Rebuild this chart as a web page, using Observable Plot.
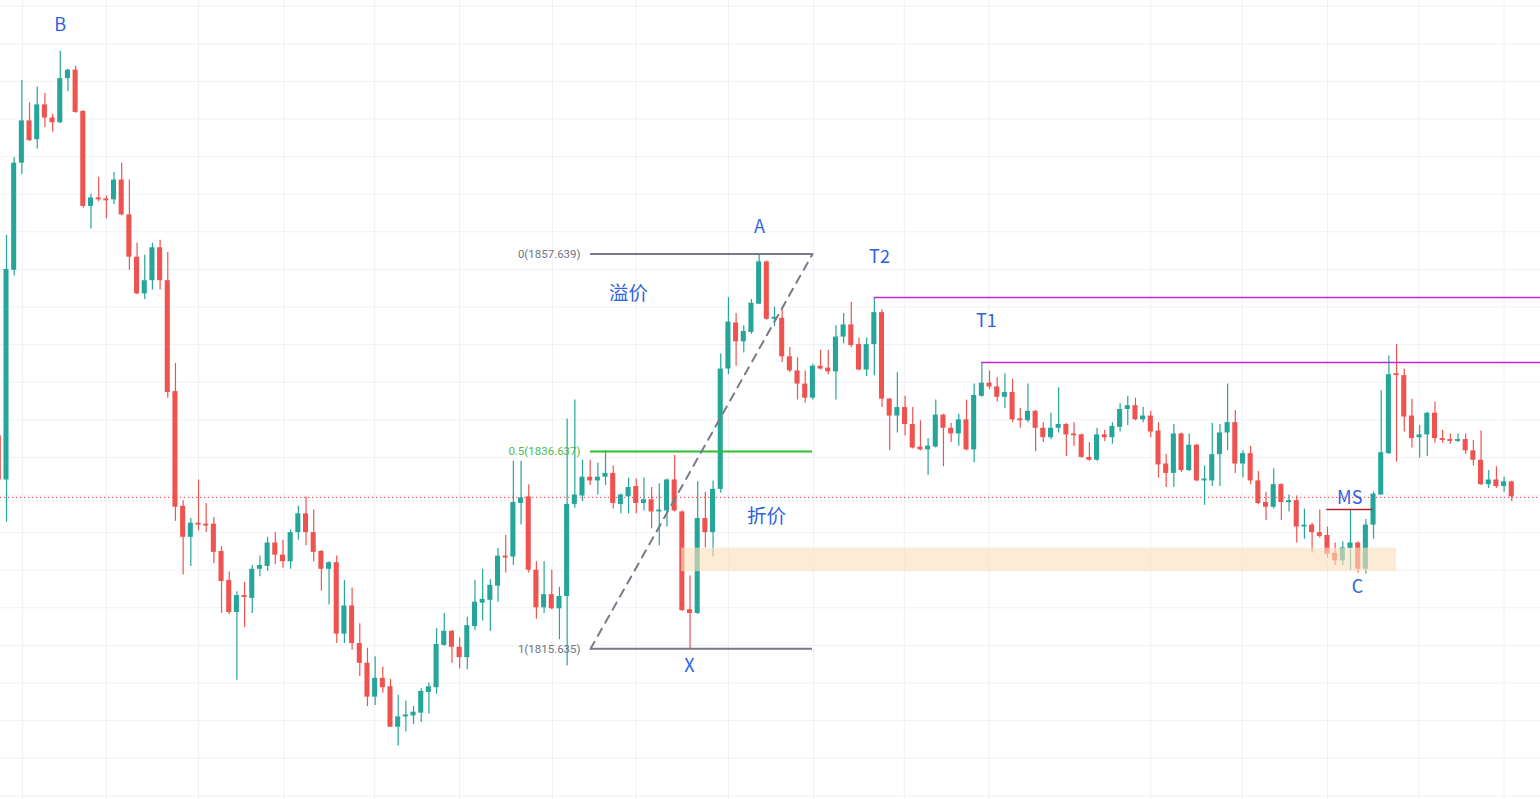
<!DOCTYPE html>
<html>
<head>
<meta charset="utf-8">
<script src="https://cdn.jsdelivr.net/npm/d3@7"></script>
<script src="https://cdn.jsdelivr.net/npm/@observablehq/plot@0.6"></script>
<style>
  html, body { margin: 0; padding: 0; background: #ffffff; overflow: hidden; }
  #chart svg { display: block; }
</style>
</head>
<body>
<div id="chart"></div>
<script>
// ---- candle data (bar index -1 .. 196) ----
const startIndex = -1;
const opens = [1838.3,1833.6,1855.9,1867.3,1871.8,1869.8,1873.5,1872.1,1871.6,1876.3,1877.2,1872.8,1862.7,1863.6,1863.5,1863.4,1865.5,1861.8,1857.3,1853.4,1854.8,1858.3,1854.8,1843.0,1830.8,1827.5,1829.0,1828.9,1828.9,1826.0,1822.9,1819.5,1821.3,1821.0,1824.1,1824.4,1826.9,1825.6,1824.9,1828.0,1830.0,1828.0,1826.0,1824.1,1824.8,1817.2,1820.2,1816.2,1814.1,1810.5,1812.5,1811.6,1807.3,1808.4,1808.5,1808.8,1811.0,1811.5,1816.0,1817.5,1815.8,1814.7,1818.0,1820.5,1820.8,1822.3,1825.5,1825.4,1831.1,1831.8,1824.0,1820.0,1821.4,1819.9,1821.2,1831.0,1831.9,1833.9,1833.5,1833.9,1834.3,1831.0,1831.8,1832.9,1831.1,1831.5,1830.2,1830.3,1833.6,1830.2,1819.8,1819.4,1829.5,1828.0,1832.6,1845.4,1850.3,1848.3,1849.3,1852.3,1856.8,1850.7,1850.8,1846.7,1845.2,1843.8,1842.3,1845.7,1845.5,1845.1,1848.8,1850.1,1848.0,1845.3,1848.0,1851.4,1842.2,1840.4,1841.3,1839.5,1837.1,1836.8,1837.1,1840.5,1839.1,1838.5,1840.0,1836.8,1842.5,1843.9,1843.5,1842.4,1842.9,1840.1,1839.9,1840.9,1839.1,1838.1,1839.1,1839.5,1838.5,1838.4,1836.0,1835.7,1838.4,1838.1,1839.2,1841.1,1841.5,1840.0,1840.4,1838.8,1835.3,1834.3,1838.5,1834.6,1837.3,1833.5,1833.5,1836.3,1838.6,1839.7,1835.3,1836.4,1833.5,1831.2,1830.7,1833.1,1831.2,1831.4,1828.6,1828.8,1828.0,1827.7,1825.8,1825.0,1826.3,1826.9,1824.1,1828.8,1832.0,1836.4,1844.9,1844.7,1840.4,1838.1,1838.4,1840.7,1838.0,1837.9,1837.7,1837.9,1836.7,1835.7,1833.1,1833.6,1832.9,1833.4];
const highs = [1839.0,1859.6,1867.9,1876.1,1873.7,1875.4,1874.7,1872.5,1879.2,1877.3,1877.6,1872.9,1864.0,1865.8,1863.8,1866.3,1867.3,1865.5,1858.8,1857.5,1858.8,1859.1,1857.8,1846.0,1831.4,1829.5,1833.6,1831.1,1829.6,1826.5,1823.8,1821.7,1822.7,1824.5,1825.5,1827.5,1828.0,1827.2,1828.3,1830.8,1831.8,1830.4,1826.1,1824.9,1825.5,1822.9,1822.1,1818.3,1815.7,1814.8,1813.7,1812.4,1810.7,1810.1,1809.5,1811.4,1812.0,1817.8,1819.4,1817.6,1816.8,1819.0,1822.9,1824.1,1823.0,1826.3,1827.7,1835.6,1835.6,1833.1,1824.9,1824.9,1824.0,1822.2,1840.1,1842.1,1835.7,1835.7,1835.4,1836.7,1835.1,1832.1,1833.8,1833.7,1833.8,1832.8,1833.2,1833.7,1836.2,1830.3,1823.4,1833.4,1832.3,1833.5,1847.0,1853.0,1851.3,1850.0,1852.8,1857.64,1856.9,1852.0,1851.7,1847.7,1846.6,1845.2,1845.9,1847.4,1847.4,1850.0,1851.3,1852.5,1848.7,1848.7,1853.0,1851.7,1842.3,1845.0,1842.5,1841.3,1839.9,1838.0,1842.1,1840.6,1839.6,1840.6,1842.1,1843.8,1846.1,1845.2,1844.5,1844.9,1844.3,1841.2,1843.8,1841.0,1839.7,1840.7,1843.4,1839.6,1839.7,1838.5,1837.6,1839.1,1838.9,1839.7,1841.7,1842.5,1842.3,1841.3,1840.9,1839.7,1836.3,1839.5,1838.6,1838.5,1837.4,1835.1,1839.6,1839.5,1843.8,1841.0,1836.7,1837.2,1834.5,1832.3,1834.8,1833.2,1832.0,1831.9,1830.5,1829.0,1830.4,1828.6,1826.9,1827.0,1830.4,1827.0,1829.4,1832.3,1843.1,1846.8,1848.0,1845.4,1842.2,1839.4,1840.8,1841.9,1838.9,1838.5,1838.5,1838.5,1837.8,1838.8,1834.6,1835.0,1833.9,1833.5];
const lows = [1833.0,1829.1,1855.3,1866.1,1869.6,1868.8,1871.1,1870.6,1871.5,1874.9,1872.6,1862.5,1860.3,1863.2,1861.4,1862.9,1861.7,1855.9,1853.3,1852.8,1853.8,1853.8,1842.3,1829.2,1823.5,1824.4,1828.2,1828.0,1824.7,1819.4,1819.3,1812.3,1817.9,1819.4,1823.3,1823.9,1824.6,1824.2,1824.1,1827.2,1826.6,1824.9,1821.8,1820.3,1816.2,1816.2,1815.5,1812.7,1809.5,1809.6,1810.9,1807.3,1805.3,1806.8,1807.6,1807.8,1808.7,1810.8,1815.9,1814.1,1813.5,1813.4,1817.6,1818.6,1817.5,1820.6,1823.7,1824.5,1828.8,1823.7,1818.8,1819.4,1819.8,1816.6,1813.8,1830.6,1831.3,1833.0,1832.0,1833.0,1830.5,1830.0,1830.0,1830.0,1830.3,1828.4,1826.6,1828.6,1830.2,1819.6,1815.64,1819.3,1826.4,1825.4,1832.2,1844.8,1845.7,1847.1,1849.1,1852.3,1850.6,1849.9,1846.1,1845.0,1842.1,1841.8,1842.1,1845.3,1844.8,1842.1,1848.1,1847.7,1845.2,1844.6,1844.7,1841.3,1836.7,1838.6,1838.3,1836.9,1836.7,1834.1,1837.0,1835.0,1837.6,1837.2,1836.7,1835.4,1842.4,1843.2,1841.9,1841.2,1839.7,1839.1,1839.7,1836.6,1837.6,1837.9,1838.6,1836.1,1837.2,1835.9,1835.6,1835.6,1837.7,1837.4,1838.7,1839.4,1839.9,1839.7,1838.1,1833.8,1832.8,1832.8,1834.4,1834.5,1833.4,1830.9,1832.9,1832.9,1836.7,1834.3,1833.8,1833.1,1831.0,1829.3,1830.5,1829.3,1830.2,1826.9,1827.3,1825.8,1827.4,1825.3,1824.5,1824.5,1824.0,1823.7,1823.6,1827.3,1832.0,1836.3,1835.5,1838.7,1837.0,1835.9,1836.1,1837.5,1837.5,1837.4,1837.6,1836.3,1835.1,1833.0,1832.7,1832.7,1832.3,1831.3];
const closes = [1833.6,1856.0,1867.3,1871.8,1869.7,1873.5,1872.1,1871.6,1876.3,1877.2,1872.7,1862.7,1863.6,1863.4,1863.3,1865.5,1861.8,1857.3,1853.4,1854.8,1858.3,1854.8,1842.9,1830.7,1827.5,1829.0,1828.8,1828.7,1825.9,1822.8,1819.5,1821.3,1821.1,1824.1,1824.5,1826.9,1825.6,1824.9,1828.0,1830.0,1828.0,1825.9,1824.1,1824.8,1817.2,1820.2,1816.2,1814.1,1810.5,1812.5,1811.5,1807.3,1808.4,1808.6,1808.9,1811.1,1811.6,1816.1,1817.5,1815.8,1814.7,1818.1,1820.6,1820.9,1822.4,1825.5,1825.3,1831.2,1831.7,1824.0,1820.0,1821.4,1819.9,1821.2,1831.0,1832.0,1833.9,1833.5,1833.9,1834.3,1831.1,1832.0,1832.8,1831.1,1831.5,1830.2,1830.4,1833.6,1830.3,1819.7,1819.4,1829.5,1828.0,1832.6,1845.4,1850.4,1848.3,1849.4,1852.4,1856.8,1850.7,1850.9,1846.7,1845.2,1843.8,1842.3,1845.7,1845.4,1845.1,1848.8,1850.1,1847.9,1845.3,1848.0,1851.4,1842.2,1840.4,1841.3,1839.5,1837.0,1836.8,1837.2,1840.5,1839.1,1838.5,1840.0,1836.8,1842.6,1843.9,1843.5,1842.4,1842.9,1840.0,1839.9,1840.9,1839.1,1838.1,1839.1,1839.5,1838.4,1838.3,1836.0,1835.7,1838.4,1838.1,1839.3,1841.1,1841.5,1840.0,1840.4,1838.7,1835.2,1834.3,1838.5,1834.6,1837.3,1833.5,1833.7,1836.3,1838.6,1839.7,1835.3,1836.4,1833.5,1831.1,1830.7,1833.1,1831.2,1831.4,1828.6,1828.8,1828.0,1827.6,1825.7,1825.0,1826.4,1826.9,1824.1,1828.8,1832.1,1836.5,1844.8,1844.7,1840.3,1838.0,1838.4,1840.7,1838.0,1837.8,1837.7,1837.9,1836.7,1835.7,1833.1,1833.6,1832.9,1833.4,1831.8];

// ---- grid ----
const gridPrices = [1800,1804,1808,1812,1816,1820,1824,1828,1832,1836,1840,1844,1848,1852,1856,1860,1864,1868,1872,1876,1880,1884];
const gridBars = [2.1,13.0,25.0,36.1,47.9,59.0,71.1,82.0,94.0,105.1,116.9,127.9,149.0,160.9,172.0,183.9,195.0];

// ---- annotations ----
const lastPrice = 1831.75;
const fibLevels = [1857.639, 1836.637, 1815.635];
const fibLabels = ["0(1857.639)", "0.5(1836.637)", "1(1815.635)"];
const fibColors = ["#787b86", "#2dbd2d", "#787b86"];
const fibLabelColors = ["#707380", "#4cbb4c", "#707380"];
const fibStart = 76.05, fibEnd = 104.95;
const t2 = {bar: 113, price: 1853.0};
const t1 = {bar: 127, price: 1846.1};
const ms = {bar1: 171.9, bar2: 177.9, price: 1830.45};
const zone = {bar1: 87.9, bar2: 181.0, low: 1823.85, high: 1826.35};
const latinTexts  = ["B", "A", "X", "T2", "T1", "MS", "C"];
const latinBars   = [7.0, 98.05, 88.93, 113.67, 127.6, 174.9, 175.9];
const latinPrices = [1881.95, 1860.46, 1813.76, 1857.26, 1850.46, 1831.7, 1822.23];
const cjkTexts  = ["溢价", "折价"];
const cjkBars   = [81.0, 98.96];
const cjkPrices = [1853.43, 1829.74];

const up = "#26a69a", down = "#ef5350";
const candles = opens.map((o, k) => ({i: startIndex + k, o, h: highs[k], l: lows[k], c: closes[k]}));
const colorOf = d => d.c >= d.o ? up : down;

const fibRows = fibLevels.map((p, k) => ({p, label: fibLabels[k], color: fibColors[k], lcolor: fibLabelColors[k]}));
const latinLabels = latinTexts.map((t, k) => ({t, x: latinBars[k], y: latinPrices[k]}));
const cjkLabels = cjkTexts.map((t, k) => ({t, x: cjkBars[k], y: cjkPrices[k]}));

const chart = Plot.plot({
  width: 1540,
  height: 799,
  margin: 0,
  style: {background: "#ffffff"},
  x: {domain: [-0.78125, 199.74], axis: null},
  y: {domain: [1799.61, 1884.606], axis: null},
  marks: [
    Plot.ruleY(gridPrices, {stroke: "#eff1f5", strokeWidth: 1}),
    Plot.ruleX(gridBars, {stroke: "#eff1f5", strokeWidth: 1}),
    Plot.ruleY([lastPrice], {stroke: "#f23645", strokeWidth: 1, strokeDasharray: "1.2,2.8"}),
    // wicks
    Plot.ruleX(candles, {x: "i", y1: "l", y2: "h", stroke: colorOf, strokeWidth: 1.2, clip: true}),
    // bodies
    Plot.rect(candles, {x1: d => d.i - 0.33, x2: d => d.i + 0.33, y1: "o", y2: "c", fill: colorOf, clip: true}),
    // zone
    Plot.rect([zone], {x1: "bar1", x2: "bar2", y1: "low", y2: "high", fill: "#fbe0bb", fillOpacity: 0.62}),
    // fib lines
    Plot.ruleY(fibRows, {y: "p", x1: fibStart, x2: fibEnd, stroke: "color", strokeWidth: 2}),
    Plot.text(fibRows, {x: fibStart, y: "p", text: "label", fill: "lcolor", textAnchor: "end", dx: -10, fontSize: 11.5, fontFamily: "Roboto, 'Noto Sans', sans-serif"}),
    Plot.line([{x: fibStart, y: fibLevels[2]}, {x: fibEnd, y: fibLevels[0]}], {x: "x", y: "y", stroke: "#787b86", strokeWidth: 2, strokeDasharray: "8,7"}),
    // T2 / T1 lines
    Plot.ruleY([t2], {y: "price", x1: "bar", x2: 199.74, stroke: "#c425d2", strokeWidth: 1.5}),
    Plot.ruleY([t1], {y: "price", x1: "bar", x2: 199.74, stroke: "#c425d2", strokeWidth: 1.5}),
    // MS line
    Plot.ruleY([ms], {y: "price", x1: "bar1", x2: "bar2", stroke: "#b2222c", strokeWidth: 1.5}),
    // labels
    Plot.text(latinLabels, {x: "x", y: "y", text: "t", fill: "#2f62e0", fontSize: 18, fontFamily: "'Noto Sans CJK SC', 'Noto Sans', sans-serif"}),
    Plot.text(cjkLabels, {x: "x", y: "y", text: "t", fill: "#2f62e0", fontSize: 19.5, fontFamily: "'Noto Sans CJK SC', sans-serif"})
  ]
});
document.getElementById("chart").appendChild(chart);
</script>
</body>
</html>
